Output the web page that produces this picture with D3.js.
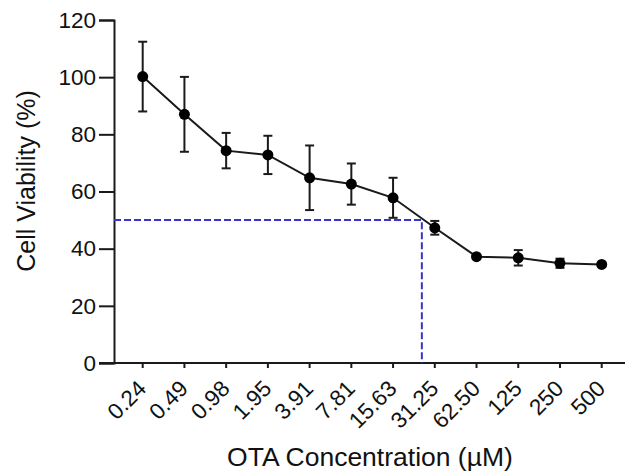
<!DOCTYPE html>
<html>
<head>
<meta charset="utf-8">
<script src="https://cdn.jsdelivr.net/npm/d3@7"></script>
<style>
body { margin: 0; background: #fff; }
text { font-family: "Liberation Sans", Arial, sans-serif; fill: #111; }
</style>
</head>
<body>
<svg width="625" height="474"></svg>
<script>
var concentrations = ["0.24", "0.49", "0.98", "1.95", "3.91", "7.81", "15.63", "31.25", "62.50", "125", "250", "500"];
var viability = [100.2, 87.0, 74.3, 72.8, 64.8, 62.6, 57.8, 47.3, 37.2, 36.8, 34.9, 34.5];
var errors = [12.2, 13.1, 6.2, 6.7, 11.3, 7.2, 7.0, 2.4, 0.6, 2.7, 1.6, 0.5];
var yTicks = [0, 20, 40, 60, 80, 100, 120];
var ic50Level = 50;
var ic50Index = 6.69; // position between 15.63 and 31.25

var svg = d3.select("svg");

var x = d3.scalePoint()
  .domain(concentrations)
  .range([142.7, 601.7]);
var step = x.step();

var y = d3.scaleLinear()
  .domain([0, 120])
  .range([363, 20]);

var ink = "#1a1a1a";

// y axis
var yAxis = svg.append("g")
  .attr("transform", "translate(114,0)")
  .call(d3.axisLeft(y).tickValues(yTicks).tickSize(15).tickPadding(3));
yAxis.select(".domain").attr("stroke", ink).attr("stroke-width", 2);
yAxis.selectAll(".tick line").attr("stroke", ink).attr("stroke-width", 2);
yAxis.selectAll(".tick text")
  .attr("font-size", 22.5)
  .attr("fill", ink)
  .style("font-family", "Liberation Sans, Arial, sans-serif");

// x axis line (starts at left end of y ticks)
svg.append("line")
  .attr("x1", 99).attr("x2", 625)
  .attr("y1", y(0)).attr("y2", y(0))
  .attr("stroke", ink).attr("stroke-width", 2);

svg.append("g").selectAll("line")
  .data(concentrations)
  .join("line")
  .attr("x1", function(d) { return x(d); })
  .attr("x2", function(d) { return x(d); })
  .attr("y1", y(0))
  .attr("y2", y(0) + 5)
  .attr("stroke", ink).attr("stroke-width", 2);

svg.append("g").selectAll("text")
  .data(concentrations)
  .join("text")
  .attr("transform", function(d) { return "translate(" + (x(d) + 5) + "," + (y(0) + 27) + ") rotate(-45)"; })
  .attr("text-anchor", "end")
  .attr("font-size", 22.5)
  .attr("fill", ink)
  .text(function(d) { return d; });

// IC50 guide lines
var xic = x(concentrations[0]) + ic50Index * step;
svg.append("path")
  .attr("d", "M114," + y(ic50Level) + "H" + xic + "V" + y(0))
  .attr("fill", "none")
  .attr("stroke", "#3a36c8")
  .attr("stroke-width", 2)
  .attr("stroke-dasharray", "7,3");

var pts = concentrations.map(function(c, i) { return {c: c, v: viability[i], e: errors[i]}; });

// connecting line
svg.append("path")
  .datum(pts)
  .attr("fill", "none")
  .attr("stroke", ink)
  .attr("stroke-width", 2)
  .attr("d", d3.line().x(function(d) { return x(d.c); }).y(function(d) { return y(d.v); }));

// error bars
var eb = svg.append("g").attr("stroke", ink).attr("stroke-width", 2);
pts.forEach(function(d) {
  eb.append("line")
    .attr("x1", x(d.c)).attr("x2", x(d.c))
    .attr("y1", y(d.v + d.e)).attr("y2", y(d.v - d.e));
  [d.v + d.e, d.v - d.e].forEach(function(v) {
    eb.append("line")
      .attr("x1", x(d.c) - 4.5).attr("x2", x(d.c) + 4.5)
      .attr("y1", y(v)).attr("y2", y(v));
  });
});

// points
svg.append("g").selectAll("circle")
  .data(pts)
  .join("circle")
  .attr("cx", function(d) { return x(d.c); })
  .attr("cy", function(d) { return y(d.v); })
  .attr("r", 5.5)
  .attr("fill", "#000");

// axis titles
svg.append("text")
  .attr("transform", "translate(35,181) rotate(-90)")
  .attr("text-anchor", "middle")
  .attr("font-size", 25)
  .text("Cell Viability (%)");

svg.append("text")
  .attr("x", 370)
  .attr("y", 466)
  .attr("text-anchor", "middle")
  .attr("font-size", 26.5)
  .text("OTA Concentration (µM)");
</script>
</body>
</html>
